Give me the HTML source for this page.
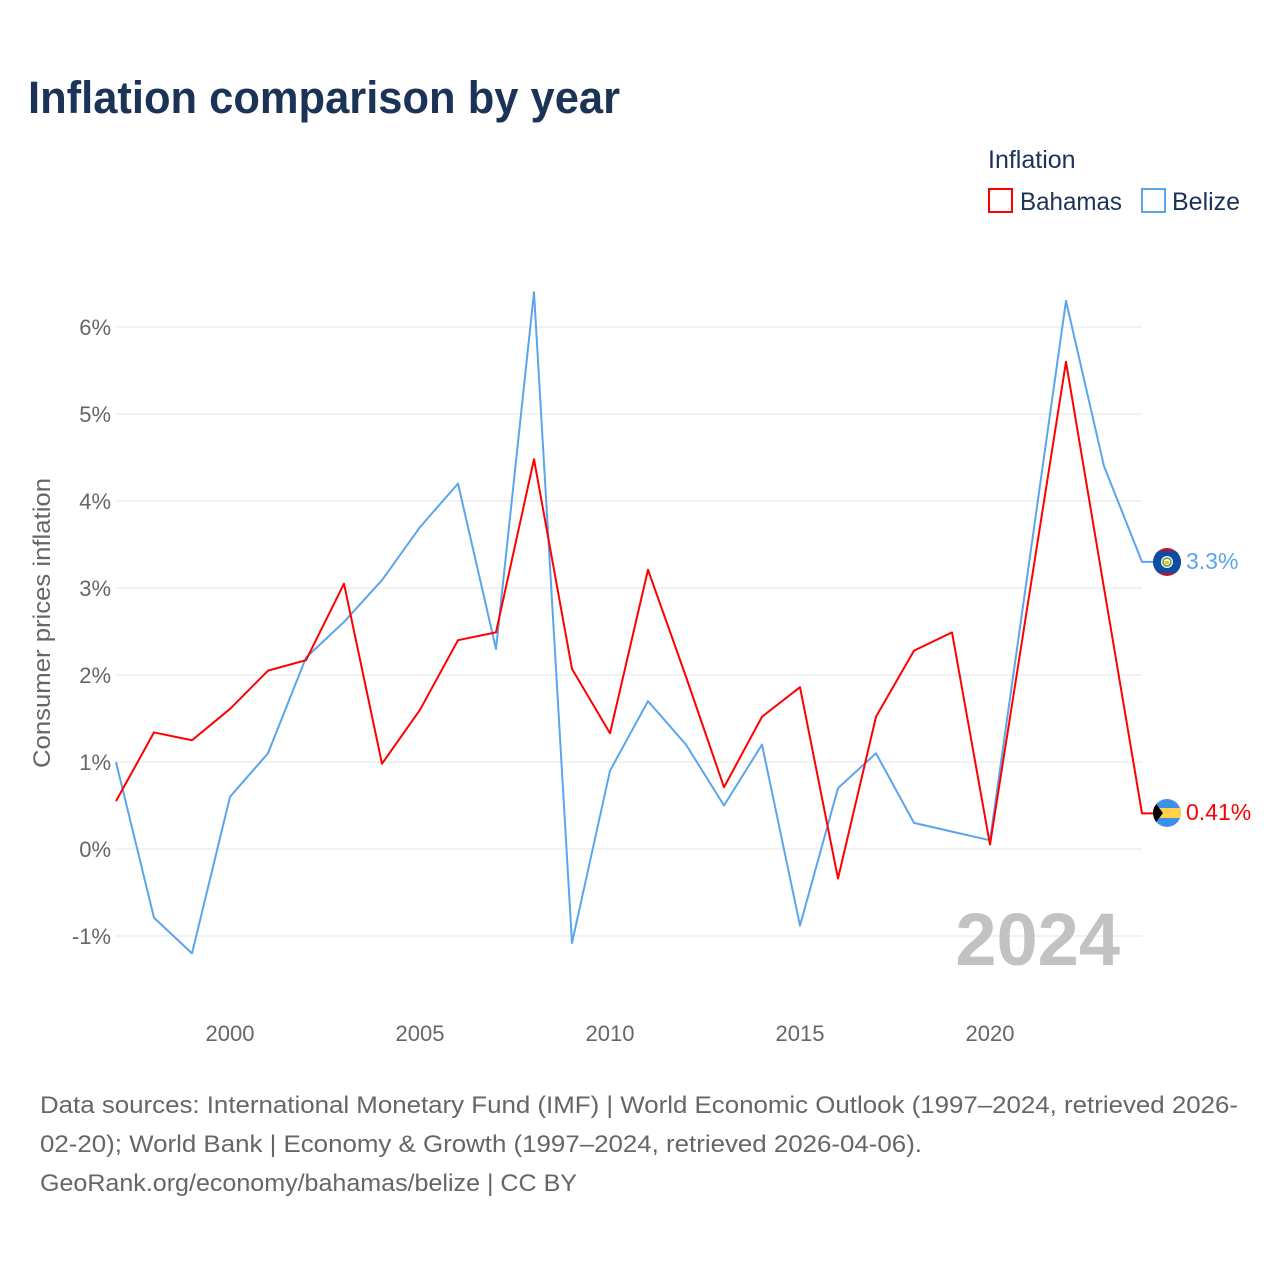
<!DOCTYPE html>
<html><head><meta charset="utf-8">
<style>
body{margin:0;background:#fff;width:1280px;height:1280px;overflow:hidden;font-family:"Liberation Sans",sans-serif;}
svg text{font-family:"Liberation Sans",sans-serif;}
</style></head>
<body>
<svg id="chart" width="1280" height="1280">
<text x="28" y="113" font-size="45" font-weight="bold" fill="#1b3357" textLength="592" lengthAdjust="spacingAndGlyphs">Inflation comparison by year</text>
<g>
<text x="988" y="168" font-size="25" fill="#1b3357">Inflation</text>
<g><rect x="989" y="189" width="23" height="23" fill="none" stroke="#f00" stroke-width="2"/><text x="1020" y="210" font-size="25" fill="#1b3357" textLength="102" lengthAdjust="spacingAndGlyphs">Bahamas</text></g>
<g><rect x="1142" y="189" width="23" height="23" fill="none" stroke="#5aa5ec" stroke-width="2"/><text x="1172" y="210" font-size="25" fill="#1b3357">Belize</text></g>
</g>
<text transform="translate(50,623) rotate(-90)" text-anchor="middle" font-size="24" fill="#666" textLength="290" lengthAdjust="spacingAndGlyphs">Consumer prices inflation</text>
<g id="grid"></g><g id="yticks"></g><g id="xticks"></g>
<text x="1120" y="965" text-anchor="end" font-size="74" font-weight="bold" fill="#c2c2c2">2024</text>
<g id="series"></g>
<g>
<clipPath id="cb"><circle cx="1167" cy="562" r="14"/></clipPath>
<g clip-path="url(#cb)"><rect x="1150" y="545" width="34" height="34" fill="#c8102e"/><rect x="1150" y="551" width="34" height="22" fill="#0b4ea2"/><circle cx="1167" cy="562" r="6" fill="#fff"/><circle cx="1167" cy="562" r="4" fill="none" stroke="#5a9a3a" stroke-width="1.5"/><rect x="1165" y="561" width="4" height="3" fill="#f3c200"/></g>
</g>
<g>
<clipPath id="cbh"><circle cx="1167" cy="813" r="14"/></clipPath>
<g clip-path="url(#cbh)"><rect x="1150" y="796" width="34" height="34" fill="#3d8fe8"/><rect x="1150" y="808" width="34" height="10" fill="#ffd24a"/><polygon points="1150,796 1163,813 1150,830" fill="#000"/></g>
</g>
<text x="1186" y="569" font-size="23" fill="#5aa5ec">3.3%</text>
<text x="1186" y="820" font-size="23" fill="#f00">0.41%</text>
<g font-size="24" fill="#666">
<text x="40" y="1113" textLength="1198" lengthAdjust="spacingAndGlyphs">Data sources: International Monetary Fund (IMF) | World Economic Outlook (1997–2024, retrieved 2026-</text>
<text x="40" y="1152" textLength="882" lengthAdjust="spacingAndGlyphs">02-20); World Bank | Economy &amp; Growth (1997–2024, retrieved 2026-04-06).</text>
<text x="40" y="1191" textLength="537" lengthAdjust="spacingAndGlyphs">GeoRank.org/economy/bahamas/belize | CC BY</text>
</g>
</svg>
<script>
const years=[1997,1998,1999,2000,2001,2002,2003,2004,2005,2006,2007,2008,2009,2010,2011,2012,2013,2014,2015,2016,2017,2018,2019,2020,2021,2022,2023,2024];
const bahamas=[0.55,1.34,1.25,1.61,2.05,2.17,3.05,0.98,1.6,2.4,2.49,4.48,2.07,1.33,3.21,1.98,0.71,1.52,1.86,-0.34,1.52,2.28,2.49,0.05,2.83,5.6,3.0,0.41];
const belize=[1.0,-0.79,-1.2,0.6,1.1,2.2,2.61,3.09,3.7,4.2,2.3,6.4,-1.08,0.9,1.7,1.2,0.5,1.2,-0.88,0.7,1.1,0.3,0.2,0.1,3.2,6.3,4.4,3.3];
const yTicks=[-1,0,1,2,3,4,5,6];
const xTicks=[2000,2005,2010,2015,2020];
const NS="http://www.w3.org/2000/svg";
const X=y=>116+(y-1997)*38;
const Y=v=>849-v*87;
function mk(tag,attrs,parent){const e=document.createElementNS(NS,tag);for(const k in attrs)e.setAttribute(k,attrs[k]);parent.appendChild(e);return e;}
const grid=document.getElementById('grid'),yt=document.getElementById('yticks'),xt=document.getElementById('xticks'),ser=document.getElementById('series');
yTicks.forEach(t=>{
 const l=mk('line',{x1:116,x2:1142,y1:Y(t),y2:Y(t),stroke:'#e6e6e6','stroke-width':1},grid);
 
 
 const tx=mk('text',{x:111,y:Y(t)+8,'text-anchor':'end','font-size':22,fill:'#666'},yt);
 tx.textContent=t+'%';
 
 
});
xTicks.forEach(t=>{
 const tx=mk('text',{x:X(t),y:1041,'text-anchor':'middle','font-size':22,fill:'#666'},xt);
 tx.textContent=t;
 
 
});
function line(vals,color,name){
 let d=vals.map((v,i)=>(i?'L':'M')+X(years[i])+','+Y(v)).join(' ');
 d+=' L'+(X(years[years.length-1])+16)+','+Y(vals[vals.length-1]);
 const p=mk('path',{d:d,fill:'none',stroke:color,'stroke-width':2,'stroke-linejoin':'round'},ser);
 
 
}
line(belize,'#5aa5ec','belize-line');
line(bahamas,'#f00','bahamas-line');
</script>
</body></html>
